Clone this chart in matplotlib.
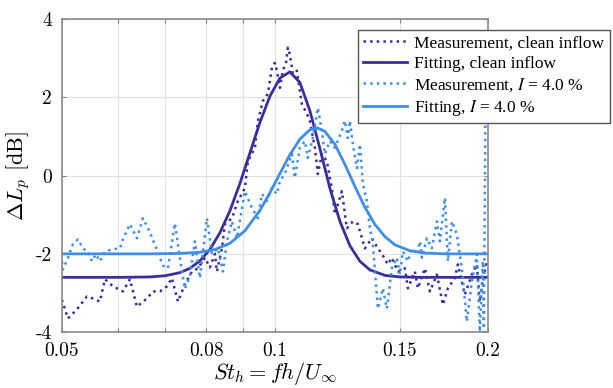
import matplotlib.pyplot as plt
from matplotlib.font_manager import FontProperties

# Measurement, clean inflow
st_clean = [0.0500, 0.05099, 0.05250, 0.05424, 0.05531, 0.05658, 0.05751, 0.05903,
            0.06098, 0.06238, 0.06382, 0.06593, 0.06723, 0.06878, 0.07036, 0.07152,
            0.07293, 0.07461, 0.07633, 0.07783, 0.07963, 0.08093, 0.08226, 0.08280,
            0.08416, 0.08498, 0.08695, 0.08866, 0.09069, 0.09159, 0.09370, 0.09462,
            0.09616, 0.09774, 0.09902, 0.09999, 0.10064, 0.10163, 0.10262, 0.10365,
            0.10429, 0.10497, 0.10600, 0.10739, 0.10915, 0.11094, 0.11203, 0.11387,
            0.11499, 0.11649, 0.11840, 0.12035, 0.12153, 0.12433, 0.12637, 0.12886,
            0.13100, 0.13401, 0.13710, 0.13980, 0.14163, 0.14441, 0.14630, 0.14918,
            0.15264, 0.15413, 0.15767, 0.15924, 0.16291, 0.16558, 0.16939, 0.17273,
            0.17555, 0.17960, 0.18135, 0.18551, 0.18978, 0.19290, 0.19479, 0.19670,
            0.19928]
dl_clean = [-3.17, -3.65, -3.42, -3.09, -3.14, -3.22, -2.65, -2.83,
            -2.96, -2.65, -3.35, -3.14, -2.96, -2.96, -2.83, -2.62,
            -3.22, -2.78, -2.45, -2.37, -2.10, -2.35, -2.00, -2.45,
            -1.86, -1.24, -1.09, -0.65, -0.32, 0.37, 0.71, 1.40,
            1.91, 2.09, 2.76, 2.88, 2.68, 2.24, 2.70, 2.85,
            3.27, 3.10, 2.60, 2.68, 1.83, 1.58, 1.40, 0.71,
            0.04, 0.55, 0.37, -0.32, -0.99, -0.40, -1.35, -1.17,
            -1.24, -1.86, -1.60, -1.86, -2.00, -2.27, -2.10, -2.45,
            -2.37, -2.88, -2.45, -2.88, -2.37, -2.96, -2.53, -3.30,
            -2.88, -2.62, -2.27, -3.04, -2.53, -2.27, -3.22, -2.71,
            -2.19]

# Fitting, clean inflow
st_fit_clean = [0.0500, 0.06039, 0.06658, 0.06991, 0.07340, 0.07583, 0.07834, 0.08093,
                0.08361, 0.08638, 0.08924, 0.09219, 0.09524, 0.09839, 0.10163, 0.10497,
                0.10845, 0.11203, 0.11577, 0.11956, 0.12356, 0.12761, 0.13185, 0.13621,
                0.14304, 0.15017, 0.16028, 0.2000]
dl_fit_clean = [-2.60, -2.60, -2.59, -2.56, -2.48, -2.37, -2.18, -1.89,
                -1.46, -0.90, -0.20, 0.58, 1.36, 2.03, 2.49, 2.65,
                2.38, 1.66, 0.69, -0.32, -1.17, -1.79, -2.19, -2.41,
                -2.55, -2.59, -2.60, -2.60]

# Measurement, I = 4.0 %
st_turb = [0.0500, 0.05016, 0.05099, 0.05182, 0.05267, 0.05354, 0.05442, 0.05513,
           0.05585, 0.05658, 0.05751, 0.05903, 0.06039, 0.06098, 0.06238, 0.06382,
           0.06508, 0.06658, 0.06811, 0.06945, 0.07059, 0.07222, 0.07340, 0.07461,
           0.07583, 0.07708, 0.07834, 0.08015, 0.08146, 0.08307, 0.08443, 0.08554,
           0.08695, 0.08837, 0.09069, 0.09279, 0.09462, 0.09585, 0.09742, 0.09902,
           0.10064, 0.10163, 0.10328, 0.10566, 0.10669, 0.10845, 0.11022, 0.11130,
           0.11313, 0.11499, 0.11649, 0.11764, 0.11956, 0.12153, 0.12433, 0.12555,
           0.12678, 0.12761, 0.12886, 0.13058, 0.13185, 0.13315, 0.13489, 0.13621,
           0.13755, 0.13980, 0.14209, 0.14394, 0.14630, 0.14870, 0.15017, 0.15165,
           0.15413, 0.15614, 0.15872, 0.16028, 0.16132, 0.16397, 0.16666, 0.16939,
           0.17105, 0.17385, 0.17555, 0.17785, 0.18077, 0.18372, 0.18672, 0.18978,
           0.19290, 0.19479, 0.19670, 0.19735, 0.19864]
dl_turb = [-2.20, -2.40, -2.10, -1.75, -1.63, -1.86, -1.94, -2.19,
           -2.01, -2.19, -1.94, -1.88, -1.86, -1.63, -1.24, -1.60,
           -1.09, -1.45, -1.90, -2.30, -2.37, -1.22, -2.10, -2.90,
           -2.55, -1.68, -2.62, -1.09, -2.00, -1.86, -2.45, -1.68,
           -1.17, -1.60, -0.40, -0.83, -1.09, -0.47, -0.65, -0.32,
           -0.47, -0.14, 0.04, 0.55, -0.06, 0.71, 0.88, 0.45,
           0.96, 1.73, 1.14, 0.55, 0.88, 0.71, 1.14, 1.40,
           0.96, 1.40, 0.80, 0.19, 0.80, -0.22, -0.65, -1.35,
           -1.76, -3.40, -2.88, -3.40, -2.37, -2.10, -2.53, -1.94,
           -2.19, -1.86, -2.01, -1.68, -2.10, -1.60, -1.86, -1.17,
           -1.68, -0.57, -2.19, -1.17, -1.50, -2.37, -3.73, -2.71,
           -2.01, -3.99, -2.19, -4.00, 3.00]

# Fitting, I = 4.0 %
st_fit_turb = [0.0500, 0.06658, 0.07340, 0.07834, 0.08226, 0.08638, 0.09069, 0.09524,
               0.09839, 0.10163, 0.10497, 0.10845, 0.11203, 0.11464, 0.11764, 0.12153,
               0.12555, 0.12974, 0.13401, 0.13846, 0.14304, 0.14777, 0.15517, 0.16291,
               0.17385, 0.2000]
dl_fit_turb = [-2.00, -2.00, -1.99, -1.96, -1.89, -1.73, -1.41, -0.89,
               -0.44, 0.05, 0.53, 0.93, 1.17, 1.22, 1.13, 0.80,
               0.29, -0.28, -0.81, -1.25, -1.56, -1.77, -1.92, -1.98,
               -2.00, -2.00]

x_ticks = [0.05, 0.06, 0.07, 0.08, 0.09, 0.1, 0.15, 0.2]
x_labels = ['0.05', '', '', '0.08', '', '0.1', '0.15', '0.2']
y_ticks = [-4, -2, 0, 2, 4]
y_labels = ['-4', '-2', '0', '2', '4']

dark = '#3a2d9c'
light = '#3d8fe8'

plt.rcParams['mathtext.fontset'] = 'cm'

fig = plt.figure(figsize=(6.13, 3.88), dpi=100)
ax = fig.add_axes([0.101, 0.144, 0.695, 0.807])

ax.plot(st_clean, dl_clean, ':', color=dark, lw=1.8, label='Measurement, clean inflow')
ax.plot(st_fit_clean, dl_fit_clean, '-', color=dark, lw=2, label='Fitting, clean inflow')
ax.plot(st_turb, dl_turb, ':', color=light, lw=1.8, label='Measurement, $I$ = 4.0 %')
ax.plot(st_fit_turb, dl_fit_turb, '-', color=light, lw=2, label='Fitting, $I$ = 4.0 %')

ax.set_xscale('log')
ax.set_xlim(0.05, 0.2)
ax.set_ylim(-4, 4)
ax.minorticks_off()
ax.set_xticks(x_ticks, x_labels, fontfamily='cmr10', fontsize=14)
ax.set_yticks(y_ticks, y_labels, fontfamily='cmr10', fontsize=14)
ax.tick_params(direction='in', length=3, color='#808080', top=True, right=True, pad=7)
ax.grid(True, color='#e2e2e2', lw=0.8)
for s in ax.spines.values():
    s.set_color('#8a8a8a')
    s.set_linewidth(1.2)

ax.set_xlabel(r'$St_h = fh/U_\infty$', fontsize=16, labelpad=0)
ax.set_ylabel(r'$\Delta L_p$ [dB]', fontsize=16, fontfamily='cmr10', labelpad=3)

leg_font = FontProperties(family='Liberation Serif', size=12.5, math_fontfamily='stix')
leg = ax.legend(loc='upper left', bbox_to_anchor=(358 / 613, 1 - 30 / 388),
                bbox_transform=fig.transFigure, prop=leg_font, fancybox=False,
                framealpha=1, edgecolor='#555555', borderaxespad=0, borderpad=0.3,
                labelspacing=0.25, handlelength=2.5, handletextpad=0.45)
leg.get_frame().set_linewidth(1.0)

fig.savefig('out.png', dpi=100)
